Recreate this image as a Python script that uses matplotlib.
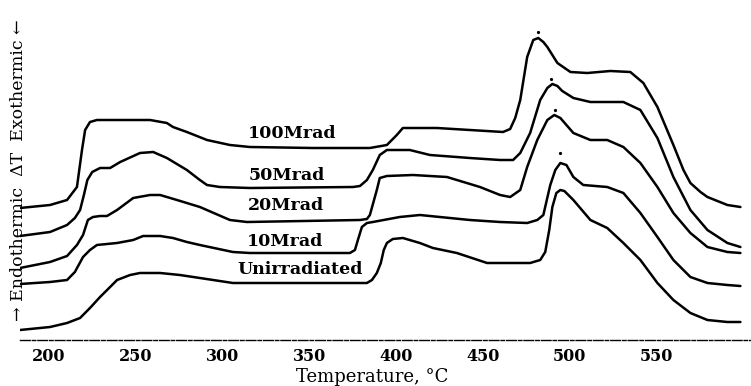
import matplotlib
matplotlib.use("Agg")
import matplotlib.pyplot as plt

# DTA traces, temperature in deg C, Delta T in arbitrary units (curves offset vertically)
t_100 = [183.4, 200.7, 210.5, 216.2, 219.1, 220.9, 223.7, 227.7, 258.3, 268.0, 271.5,
         279.5, 291.1, 304.3, 315.8, 352.1, 384.9, 394.7, 400.4, 403.9, 423.5, 442.5,
         461.6, 465.7, 468.6, 471.5, 475.5, 479.0, 481.9, 484.8, 487.1, 492.9, 500.4,
         510.1, 523.4, 534.9, 542.4, 550.5, 559.7, 565.5, 569.5, 575.3, 579.3, 590.8, 598.3]
dt_100 = [132, 135, 140, 153, 190, 210, 218, 220, 220, 217, 213,
          208, 200, 195, 193, 192, 192, 195, 205, 212, 212, 210,
          208, 211, 222, 240, 283, 300, 302, 298, 293, 277, 268,
          267, 269, 268, 257, 233, 195, 170, 157, 148, 143, 135, 133]

t_50 = [183.4, 200.7, 210.5, 215.0, 218.0, 220.2, 222.2, 225.0, 229.5, 235.3, 241.1,
        252.5, 260.1, 268.0, 279.5, 287.0, 291.1, 298.5, 315.8, 375.2, 379.2, 383.2,
        386.6, 390.6, 394.7, 407.9, 419.5, 442.5, 459.9, 467.4, 471.5, 477.2, 483.0,
        487.1, 490.0, 492.9, 495.7, 502.1, 511.9, 530.9, 540.7, 550.5, 559.7, 569.5,
        579.3, 590.8, 598.3]
dt_50 = [104, 108, 115, 122, 130, 145, 160, 168, 172, 172, 178,
         187, 188, 182, 170, 160, 155, 153, 152, 153, 154, 160,
         170, 185, 190, 190, 185, 182, 180, 180, 187, 207, 240,
         252, 256, 254, 249, 242, 238, 238, 230, 202, 163, 130,
         110, 97, 93]

t_20 = [183.4, 200.7, 210.5, 216.2, 219.7, 222.5, 225.4, 229.5, 233.5, 239.3, 248.6,
        258.3, 264.1, 273.8, 287.0, 304.3, 314.1, 379.2, 383.2, 384.9, 388.9, 390.6,
        394.7, 409.7, 429.3, 448.3, 459.9, 465.7, 471.5, 475.5, 481.3, 487.1, 491.1,
        494.6, 502.1, 511.9, 521.6, 530.9, 540.7, 550.5, 559.7, 569.5, 579.3, 590.8, 598.3]
dt_20 = [72, 78, 84, 95, 105, 120, 123, 124, 124, 130, 142,
         145, 145, 140, 133, 120, 118, 120, 121, 125, 150, 162,
         164, 165, 163, 153, 145, 143, 150, 173, 200, 220, 225,
         222, 207, 200, 200, 193, 177, 153, 127, 107, 93, 88, 87]

t_10 = [183.4, 200.7, 210.5, 215.0, 219.7, 223.7, 227.7, 239.3, 248.6, 254.3, 264.1,
        271.5, 279.5, 287.0, 306.0, 315.8, 373.4, 376.3, 378.0, 380.3, 383.2, 386.6,
        402.1, 413.7, 442.5, 459.9, 475.5, 481.3, 484.8, 488.8, 491.7, 494.6, 498.1,
        502.1, 507.8, 521.6, 530.9, 540.7, 550.5, 559.7, 569.5, 579.3, 590.8, 598.3]
dt_10 = [56, 58, 60, 68, 83, 90, 95, 97, 100, 104, 104,
         102, 98, 95, 88, 87, 87, 90, 100, 113, 117, 118,
         123, 125, 120, 118, 117, 120, 125, 155, 170, 177, 175,
         163, 155, 153, 147, 127, 103, 80, 63, 57, 55, 54]

t_0 = [183.4, 200.7, 210.5, 218.0, 223.7, 229.5, 235.3, 239.3, 246.8, 252.5, 264.1,
       275.5, 287.0, 306.0, 315.8, 383.2, 386.1, 388.9, 391.2, 392.9, 394.7, 398.1,
       403.9, 413.7, 421.2, 435.0, 452.4, 459.9, 477.2, 483.0, 485.9, 488.2, 490.0,
       492.3, 494.6, 496.9, 502.1, 511.9, 521.6, 530.9, 540.7, 550.5, 559.7, 569.5,
       579.3, 590.8, 598.3]
dt_0 = [10, 13, 17, 22, 32, 43, 53, 60, 65, 67, 67,
        65, 62, 57, 57, 57, 60, 67, 77, 90, 97, 101,
        102, 97, 92, 87, 77, 77, 77, 80, 88, 110, 133,
        147, 150, 149, 140, 120, 112, 97, 80, 57, 40, 27,
        20, 18, 18]

curve_labels = ["100Mrad", "50Mrad", "20Mrad", "10Mrad", "Unirradiated"]
label_t = [340.0, 337.1, 336.6, 336.0, 344.6]
label_dt = [207, 165, 135, 98, 70]

# small marks above the main exothermic peaks
peak_t = [481.9, 489.4, 491.7, 494.6]
peak_dt = [308, 261, 230, 187]

tick_vals = [200, 250, 300, 350, 400, 450, 500, 550]

fig = plt.figure(figsize=(7.51, 3.86), dpi=100)
ax = fig.add_axes([20 / 751, 46 / 386, 731 / 751, 340 / 386])

for t, dt in [(t_100, dt_100), (t_50, dt_50), (t_20, dt_20), (t_10, dt_10), (t_0, dt_0)]:
    ax.plot(t, dt, color="black", lw=1.8, solid_joinstyle="round", solid_capstyle="round")

ax.plot(peak_t, peak_dt, "o", color="black", markersize=1.3)

for name, x, y in zip(curve_labels, label_t, label_dt):
    ax.text(x, y, name, ha="center", va="center", family="DejaVu Serif",
            fontsize=12.5, fontweight="bold")

ax.set_xlim(183.4, 604.4)
ax.set_ylim(0, 340)
ax.set_xticks(tick_vals)
ax.set_xticklabels([str(v) for v in tick_vals], family="DejaVu Serif",
                   fontsize=11.5, fontweight="bold")
ax.tick_params(axis="x", length=0, pad=6)
ax.set_yticks([])
for side in ["top", "right", "left"]:
    ax.spines[side].set_visible(False)
ax.spines["bottom"].set_linestyle((0, (7, 1.5, 2.5, 1.5)))
ax.spines["bottom"].set_linewidth(1.0)

fig.text(372 / 751, 1 - 377 / 386, "Temperature, \u00b0C", ha="center", va="center",
         family="DejaVu Serif", fontsize=13)
fig.text(19 / 751, 1 - 170 / 386, "\u2192 Endothermic  \u0394T  Exothermic \u2190",
         rotation=90, ha="center", va="center", family="DejaVu Serif", fontsize=12.5)

fig.savefig("out.png", dpi=100)
